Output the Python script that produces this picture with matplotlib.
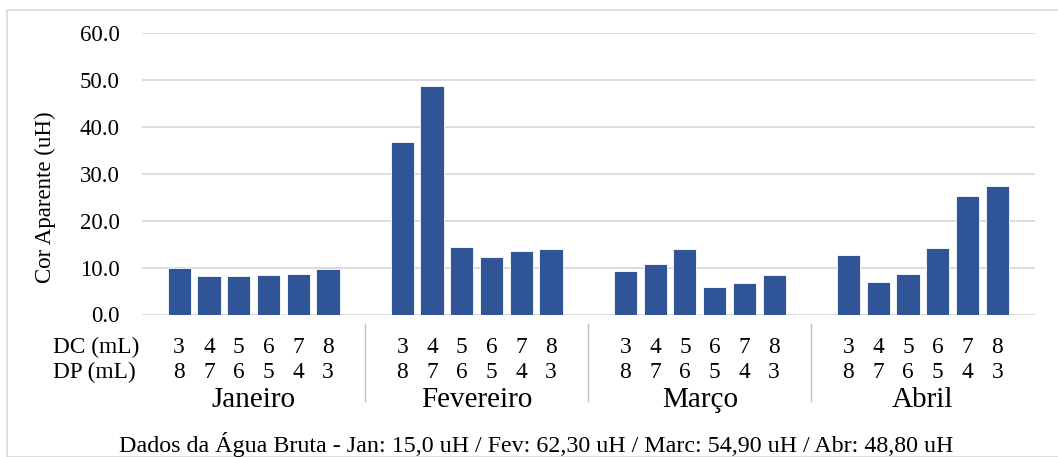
import matplotlib
matplotlib.use('Agg')
import matplotlib.pyplot as plt
import matplotlib.transforms as mtransforms
from matplotlib.patches import Rectangle

plt.rcParams['font.family'] = ['Liberation Serif', 'DejaVu Serif']

# данные с графика
months = ['Janeiro', 'Fevereiro', 'Março', 'Abril']
dc = [3, 4, 5, 6, 7, 8]
dp = [8, 7, 6, 5, 4, 3]
jan = [9.9, 8.3, 8.2, 8.5, 8.7, 9.7]
fev = [36.7, 48.7, 14.4, 12.3, 13.6, 14.0]
mar = [9.2, 10.8, 14.0, 5.9, 6.7, 8.4]
abr = [12.7, 7.0, 8.7, 14.2, 25.2, 27.5]
values = [jan, fev, mar, abr]
footer = 'Dados da Água Bruta - Jan: 15,0 uH / Fev: 62,30 uH / Marc: 54,90 uH / Abr: 48,80 uH'

W, H = 1058, 457
fig = plt.figure(figsize=(W / 100, H / 100), dpi=100)
ax = fig.add_axes([142 / W, (H - 314.5) / H, (1035 - 142) / W, (314.5 - 33.3) / H])

blue = '#2F5597'
grey = '#D9D9D9'
step = 7.5  # шаг между группами

for g, vals in enumerate(values):
    xs = [g * step + i for i in range(len(vals))]
    ax.bar(xs, vals, width=0.78, color=blue, edgecolor='white', linewidth=0.6, zorder=3)

ax.set_ylim(0, 60)
ax.set_xlim(-1.25, 3 * step + 5 + 1.27)
ax.set_yticks(range(0, 61, 10))
ax.set_yticklabels([f'{v:.1f}' for v in range(0, 61, 10)], fontsize=16.5)
ax.tick_params(axis='y', length=0, pad=16)
ax.set_xticks([])
ax.grid(axis='y', color=grey, linewidth=1.3, zorder=0)
for s in ax.spines.values():
    s.set_visible(False)

# подписи под осью
tr = mtransforms.blended_transform_factory(ax.transData, fig.transFigure)
def fy(py):
    return (H - py) / H

fig.text(53 / W, fy(353), 'DC (mL)', fontsize=16.8, va='baseline', ha='left')
fig.text(53 / W, fy(378), 'DP (mL)', fontsize=16.8, va='baseline', ha='left')
for g, m in enumerate(months):
    for i in range(len(dc)):
        x = g * step + i
        ax.text(x, fy(353), str(dc[i]), transform=tr, fontsize=16.8, ha='center', va='baseline')
        ax.text(x, fy(378), str(dp[i]), transform=tr, fontsize=16.8, ha='center', va='baseline')
    ax.text(g * step + 2.5, fy(407), m, transform=tr, fontsize=21, ha='center', va='baseline')
    if g > 0:
        xsep = g * step - 1.25
        ax.plot([xsep, xsep], [fy(324), fy(401)], transform=tr, color='#BFBFBF',
                linewidth=1, clip_on=False)

fig.text(45.5 / W, fy(197), 'Cor Aparente (uH)', rotation=90, fontsize=16.5,
         ha='center', va='center')
fig.text(536.5 / W, fy(452), footer, fontsize=17.3, ha='center', va='baseline')

# рамка диаграммы
fig.patches.append(Rectangle((7 / W, 0), 1.2, fy(10), transform=fig.transFigure,
                             fill=False, edgecolor=grey, linewidth=1.2))

fig.savefig('out.png', dpi=100)
